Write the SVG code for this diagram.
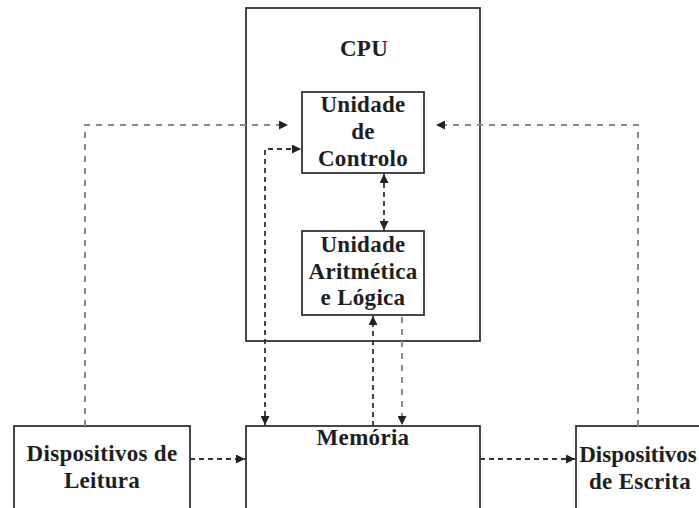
<svg xmlns="http://www.w3.org/2000/svg" width="699" height="508" viewBox="0 0 699 508">
  <style>
    .box { fill: #ffffff; stroke: #333; stroke-width: 1.8; }
    .label { font-family: "Liberation Serif", "Times New Roman", serif; font-weight: bold; font-size: 23px; letter-spacing: 0.3px; fill: #1e1e1e; text-anchor: middle; }
    .tight { letter-spacing: 0; }
    .link { fill: none; stroke: #333; stroke-width: 1.8; stroke-dasharray: 5 4; }
    .link-light { fill: none; stroke: #8a8a8a; stroke-width: 2; stroke-dasharray: 6 6; }
  </style>
  <defs>
    <marker id="head" viewBox="0 0 10 10" refX="10" refY="5" markerWidth="9" markerHeight="9" markerUnits="userSpaceOnUse" orient="auto-start-reverse">
      <path d="M0,0 L10,5 L0,10 Z" fill="#222"/>
    </marker>
  </defs>
  <rect x="0" y="0" width="699" height="508" fill="#ffffff"/>

  <g id="cpu">
    <rect class="box" x="246" y="8" width="234" height="333"/>
    <text class="label" x="364" y="56">CPU</text>
  </g>

  <g id="unidade-controlo">
    <rect class="box" x="302" y="92" width="122" height="81"/>
    <text class="label" x="363" y="112">Unidade</text>
    <text class="label" x="363" y="139">de</text>
    <text class="label" x="363" y="166">Controlo</text>
  </g>

  <g id="unidade-aritmetica">
    <rect class="box" x="302" y="231" width="122" height="84"/>
    <text class="label" x="363" y="252">Unidade</text>
    <text class="label" x="363" y="279">Aritmética</text>
    <text class="label" x="363" y="305">e Lógica</text>
  </g>

  <g id="memoria">
    <rect class="box" x="246" y="426" width="234" height="100"/>
    <text class="label" x="363" y="445">Memória</text>
  </g>

  <g id="leitura">
    <rect class="box" x="14" y="426" width="176" height="100"/>
    <text class="label" x="102" y="461">Dispositivos de</text>
    <text class="label" x="102" y="488">Leitura</text>
  </g>

  <g id="escrita">
    <rect class="box" x="576" y="426" width="140" height="100"/>
    <text class="label tight" x="638" y="462">Dispositivos</text>
    <text class="label" x="640" y="489">de Escrita</text>
  </g>

  <g id="connectors">
    <path class="link-light" d="M85,426 V125 H288" marker-end="url(#head)"/>
    <path class="link-light" d="M638,426 V125 H436" marker-end="url(#head)"/>
    <path class="link" d="M265,425 V149 H301" marker-start="url(#head)" marker-end="url(#head)"/>
    <path class="link" d="M384,174 V230" marker-start="url(#head)" marker-end="url(#head)"/>
    <path class="link" d="M373,426 V316" marker-end="url(#head)"/>
    <path class="link-light" d="M402,317 V425" marker-end="url(#head)"/>
    <path class="link" d="M190,459 H245" marker-end="url(#head)"/>
    <path class="link" d="M480,459 H575" marker-end="url(#head)"/>
  </g>
</svg>
